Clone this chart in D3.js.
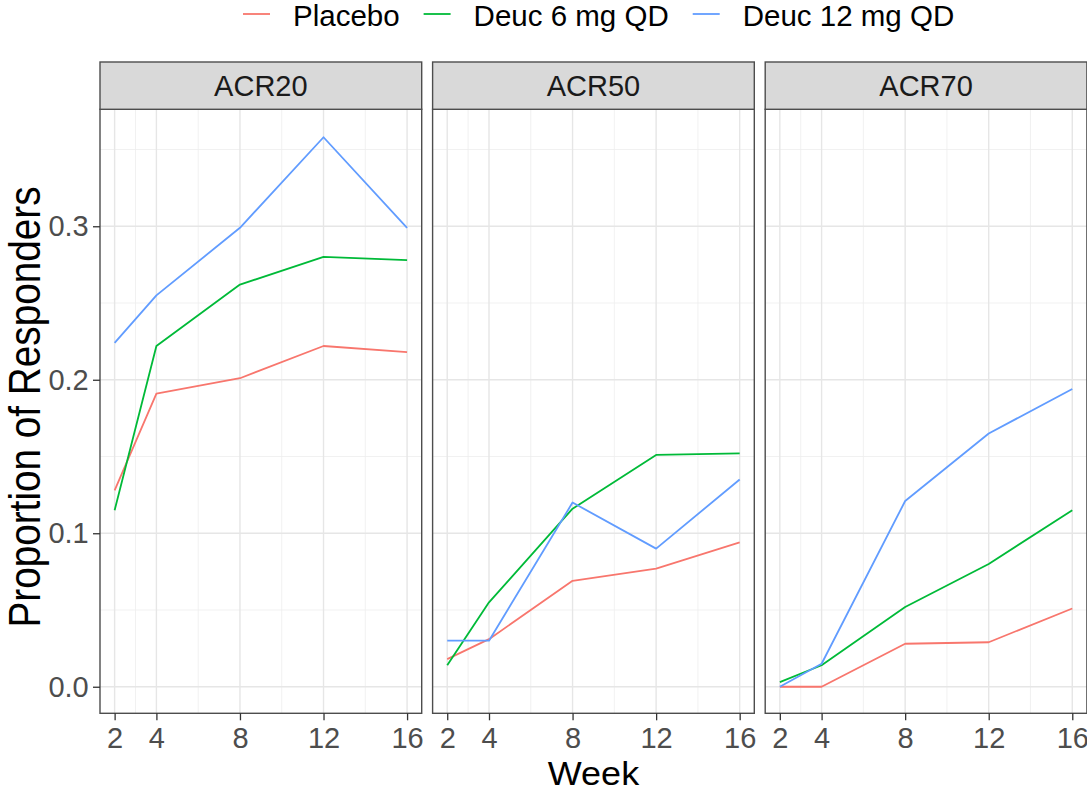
<!DOCTYPE html>
<html>
<head>
<meta charset="utf-8">
<script src="https://cdn.jsdelivr.net/npm/d3@7"></script>
<style>
  body { margin: 0; background: #fff; }
  svg { display: block; font-family: "Liberation Sans", Arial, sans-serif; }
</style>
</head>
<body>
<svg id="chart"></svg>
<script>
// data
const weeks = [2, 4, 8, 12, 16];
const endpoints = ["ACR20", "ACR50", "ACR70"];
const treatments = ["Placebo", "Deuc 6 mg QD", "Deuc 12 mg QD"];
const colors = ["#F8766D", "#00BA38", "#619CFF"];

// one row per endpoint (ACR20, ACR50, ACR70), values per week
const placebo = [
  [0.128, 0.191, 0.201, 0.222, 0.218],
  [0.018, 0.031, 0.069, 0.077, 0.094],
  [0.000, 0.000, 0.028, 0.029, 0.051]
];
const deuc6 = [
  [0.115, 0.222, 0.262, 0.280, 0.278],
  [0.014, 0.055, 0.116, 0.151, 0.152],
  [0.003, 0.014, 0.052, 0.080, 0.115]
];
const deuc12 = [
  [0.224, 0.255, 0.299, 0.358, 0.299],
  [0.030, 0.030, 0.120, 0.090, 0.135],
  [0.000, 0.015, 0.121, 0.165, 0.194]
];

const yTicks = [0, 0.1, 0.2, 0.3];
const yMinor = [0.05, 0.15, 0.25, 0.35];
const xMinor = [3, 6, 10, 14];

const series = [placebo, deuc6, deuc12];

var width = 1087, height = 792;
var panelW = 321.7, panelGap = 10.9;
var panelTop = 109.3, panelBottom = 713.3;
var stripTop = 62;
var left = 100;

const svg = d3.select("#chart")
  .attr("width", width)
  .attr("height", height);

const x = d3.scaleLinear().domain([1.3, 16.7]).range([0, panelW]);
const y = d3.scaleLinear().domain([-0.0173, 0.3762]).range([panelBottom, panelTop]);

const line = d3.line()
  .x(d => x(d.week))
  .y(d => y(d.value));

endpoints.forEach((ep, i) => {
  const px = left + i * (panelW + panelGap);
  const g = svg.append("g").attr("transform", "translate(" + px + ",0)");

  // grid lines
  g.selectAll(".ymin").data(yMinor).enter().append("line")
    .attr("x1", 0).attr("x2", panelW)
    .attr("y1", d => y(d)).attr("y2", d => y(d))
    .attr("stroke", "#ededed").attr("stroke-width", 0.8);
  g.selectAll(".xmin").data(xMinor).enter().append("line")
    .attr("x1", d => x(d)).attr("x2", d => x(d))
    .attr("y1", panelTop).attr("y2", panelBottom)
    .attr("stroke", "#ededed").attr("stroke-width", 0.8);
  g.selectAll(".ymaj").data(yTicks).enter().append("line")
    .attr("x1", 0).attr("x2", panelW)
    .attr("y1", d => y(d)).attr("y2", d => y(d))
    .attr("stroke", "#e6e6e6").attr("stroke-width", 1.4);
  g.selectAll(".xmaj").data(weeks).enter().append("line")
    .attr("x1", d => x(d)).attr("x2", d => x(d))
    .attr("y1", panelTop).attr("y2", panelBottom)
    .attr("stroke", "#e6e6e6").attr("stroke-width", 1.4);

  // lines, placebo first so 12 mg ends on top
  series.forEach((s, k) => {
    const pts = weeks.map((w, j) => ({ week: w, value: s[i][j] }));
    g.append("path")
      .datum(pts)
      .attr("d", line)
      .attr("fill", "none")
      .attr("stroke", colors[k])
      .attr("stroke-width", 1.8)
      .attr("stroke-linejoin", "round");
  });

  // border
  g.append("rect")
    .attr("x", 0).attr("y", panelTop)
    .attr("width", panelW).attr("height", panelBottom - panelTop)
    .attr("fill", "none").attr("stroke", "#4d4d4d").attr("stroke-width", 1.4);

  // strip
  g.append("rect")
    .attr("x", 0).attr("y", stripTop)
    .attr("width", panelW).attr("height", panelTop - stripTop)
    .attr("fill", "#d9d9d9").attr("stroke", "#4d4d4d").attr("stroke-width", 1.4);
  g.append("text")
    .attr("x", panelW / 2).attr("y", 96)
    .attr("text-anchor", "middle")
    .attr("font-size", 29)
    .attr("fill", "#1a1a1a")
    .text(ep);

  // x axis
  const xa = g.append("g")
    .attr("transform", "translate(0," + panelBottom + ")")
    .call(d3.axisBottom(x).tickValues(weeks).tickSize(7).tickPadding(7).tickSizeOuter(0));
  xa.select(".domain").remove();
  xa.selectAll(".tick line").attr("stroke", "#333").attr("stroke-width", 1.3);
  xa.selectAll(".tick text").attr("font-size", 29).attr("fill", "#4d4d4d")
    .attr("font-family", "Liberation Sans, Arial, sans-serif");

  if (i == 0) {
    const ya = g.append("g")
      .call(d3.axisLeft(y).tickValues(yTicks).tickFormat(d3.format(".1f")).tickSize(7).tickPadding(4.3).tickSizeOuter(0));
    ya.select(".domain").remove();
    ya.selectAll(".tick line").attr("stroke", "#333").attr("stroke-width", 1.3);
    ya.selectAll(".tick text").attr("font-size", 29).attr("fill", "#4d4d4d")
      .attr("font-family", "Liberation Sans, Arial, sans-serif");
  }
});

// axis titles
svg.append("text")
  .attr("transform", "translate(" + (left + (3 * panelW + 2 * panelGap) / 2) + ",785) scale(1,0.9)")
  .attr("text-anchor", "middle")
  .attr("font-size", 36)
  .attr("fill", "#000")
  .text("Week");

svg.append("text")
  .attr("transform", "translate(40,407) rotate(-90) scale(0.88,1)")
  .attr("text-anchor", "middle")
  .attr("font-size", 44)
  .attr("fill", "#000")
  .text("Proportion of Responders");

// legend
var lx = 243;
treatments.forEach((t, k) => {
  svg.append("line")
    .attr("x1", lx).attr("x2", lx + 27)
    .attr("y1", 14).attr("y2", 14)
    .attr("stroke", colors[k]).attr("stroke-width", 1.8);
  const txt = svg.append("text")
    .attr("x", lx + 50).attr("y", 26)
    .attr("font-size", 29.5)
    .attr("fill", "#000")
    .text(t);
  lx = lx + 50 + txt.node().getComputedTextLength() + 24;
});
</script>
</body>
</html>
